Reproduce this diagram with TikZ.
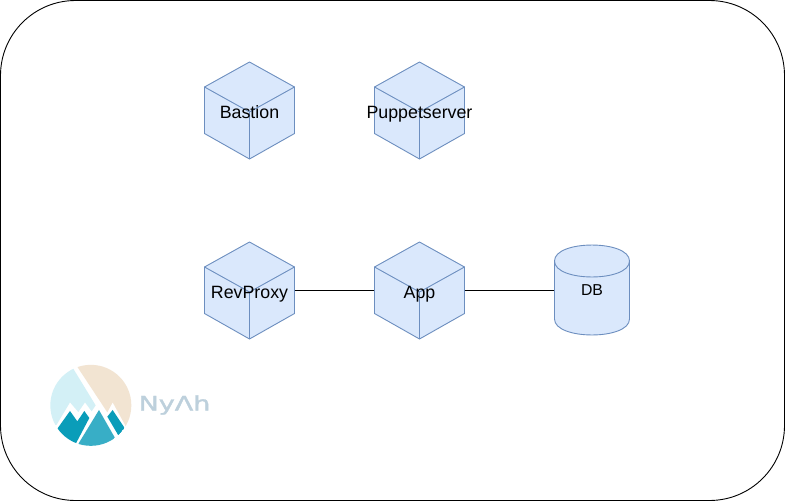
\documentclass[tikz,border=0pt]{standalone}
\usepackage{fontspec}
\setmainfont{Liberation Sans}
\newfontfamily\logofont[FakeBold=1.5]{DejaVu Sans}
\definecolor{boxfill}{HTML}{DAE8FC}
\definecolor{boxline}{HTML}{6C8EBF}
\definecolor{lgice}{HTML}{D3F0F6}
\definecolor{lgsand}{HTML}{F2E4D2}
\definecolor{lgdeep}{HTML}{0A9DB9}
\definecolor{lgmid}{HTML}{38AEC6}
\definecolor{lgtext}{HTML}{BDD0DC}
\tikzset{
  cubeface/.style={draw=boxline,fill=boxfill,line width=0.9pt,line join=round},
  cubeedge/.style={draw=boxline,line width=0.9pt},
  cubebox/.style={rectangle,minimum width=90pt,minimum height=97pt,inner sep=0pt,
    label={[cubelabel]center:#1}},
  cubelabel/.style={font=\fontsize{17.8}{20}\selectfont,text=black,inner sep=0pt,text height=13pt,text depth=4pt,yshift=-3pt},
  dbbox/.style={rectangle,minimum width=75pt,minimum height=90pt,inner sep=0pt,
    font=\fontsize{15.8}{18}\selectfont,text=black},
  wire/.style={draw=black,line width=0.9pt},
  frame/.style={draw=black,line width=0.9pt,fill=white,rounded corners=75pt},
}
\newcommand{\cubeshape}[2]{%
  \begin{scope}[shift={(#1,#2)}]
    \path[cubeface] (0,-48.5) -- (45,-23.5) -- (45,23) -- (0,48.5) -- (-45,23) -- (-45,-23.5) -- cycle;
    \path[cubeedge] (-45,-23.5) -- (0,1.5) -- (45,-23.5) (0,1.5) -- (0,48.5);
  \end{scope}}
\begin{document}
\begin{tikzpicture}[x=1pt,y=-1pt]
\useasboundingbox (0,0) rectangle (785,501);
\path[frame] (0.5,0.5) rectangle (784.5,500.5);

\cubeshape{249.5}{110.5}
\node[cubebox=Bastion] (bastion) at (249.5,110.5) {};
\cubeshape{419.5}{110.5}
\node[cubebox=Puppetserver] (puppet) at (419.5,110.5) {};
\cubeshape{249.5}{290.5}
\node[cubebox=RevProxy] (revproxy) at (249.5,290.5) {};
\cubeshape{419.5}{290.5}
\node[cubebox=App] (app) at (419.5,290.5) {};

\path[cubeface] (554.5,261) .. controls (554.5,239.7) and (629.5,239.7) .. (629.5,261)
  -- (629.5,319) .. controls (629.5,340.3) and (554.5,340.3) .. (554.5,319) -- cycle;
\path[cubeedge] (554.5,261) .. controls (554.5,282.3) and (629.5,282.3) .. (629.5,261);
\node[dbbox] (db) at (592,290.5) {DB};

\draw[wire] (revproxy.east) -- (app.west);
\draw[wire] (app.east) -- (db.west);

% logo, zoom coordinates: x = 30 + zx/3, y = 350 + zy/3
\begin{scope}[shift={(30,350)},x=0.3333pt,y=-0.3333pt]
  \begin{scope}
    \clip (182.5,166) circle[radius=121.5];
    \fill[lgsand] (143,52) -- (232,187) -- (248,157) -- (288,230) -- (330,260) -- (330,20) -- (160,20) -- cycle;
    \fill[lgice] (131,58) -- (197,166) -- (185,184) -- (165,157) -- (145,186) -- (120,157) -- (80,224) -- (30,240) -- (30,30) -- (120,30) -- cycle;
    \fill[lgdeep] (85,232) -- (120,183) -- (142,214) -- (163,183) -- (178,204) -- (138,280) -- (60,280) -- cycle;
    \fill[lgmid] (207,180) -- (254,262) -- (250,310) -- (140,310) -- (146,280) -- cycle;
    \fill[lgdeep] (232,200) -- (248,180) -- (284,234) -- (265,256) -- cycle;
  \end{scope}
\end{scope}
\node[inner sep=0pt,text=lgtext,font=\logofont\fontsize{20}{21}\selectfont,xscale=1.35] (logotext) at (174.5,405) {NyΛh};
\end{tikzpicture}
\end{document}
